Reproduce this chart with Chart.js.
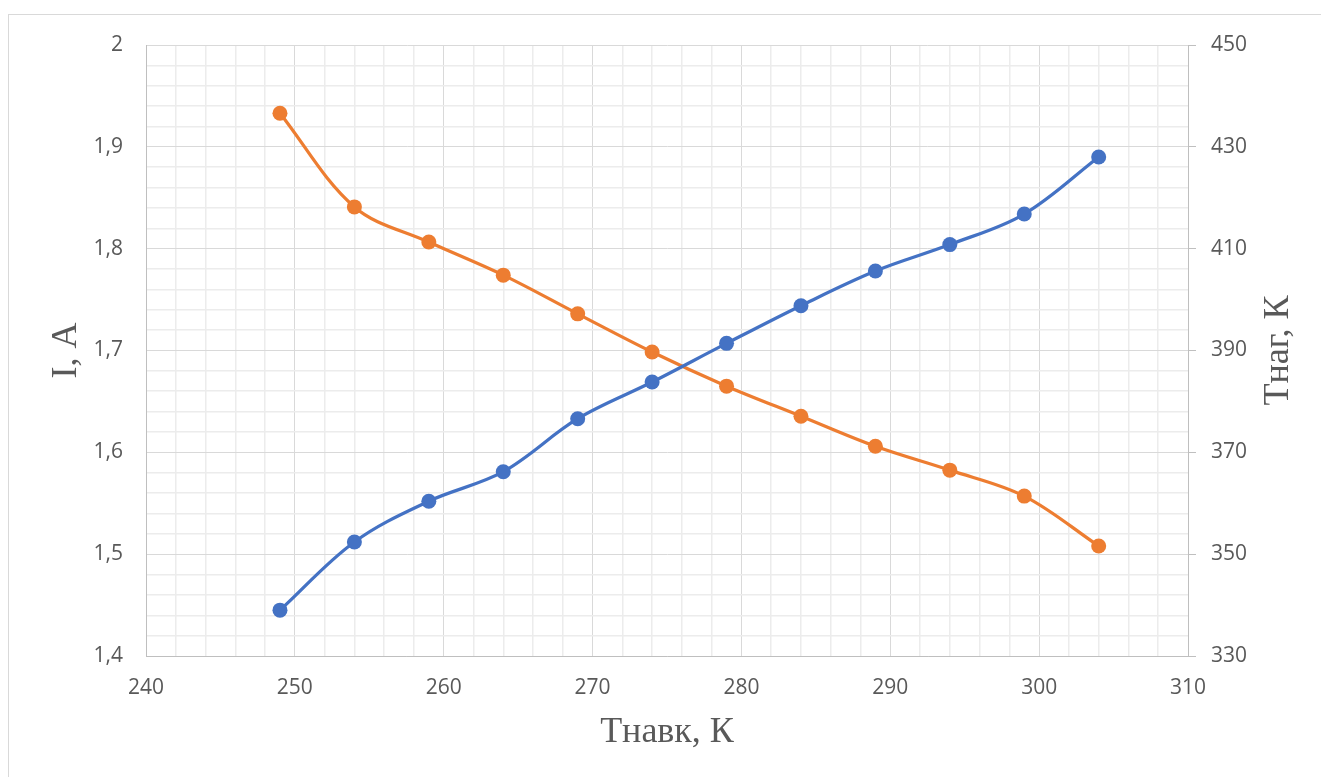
<!DOCTYPE html>
<html>
<head>
<meta charset="utf-8">
<script src="https://cdn.jsdelivr.net/npm/chart.js@4/dist/chart.umd.min.js"></script>
<style>
  html, body { margin: 0; padding: 0; background: #fff; overflow: hidden; }
  #wrap { position: relative; width: 1321px; height: 777px; }
  #frame { position: absolute; left: 8px; top: 14px; width: 1400px; height: 900px; border: 1px solid #d9d9d9; }
  #tChart { position: absolute; left: 0; top: 0; }
</style>
</head>
<body>
<div id="wrap">
  <div id="frame"></div>
  <canvas id="tChart" width="1321" height="777"></canvas>
</div>
<script>
// data
const tAmbient = [249, 254, 259, 264, 269, 274, 279, 284, 289, 294, 299, 304];
const current = [1.445, 1.512, 1.552, 1.581, 1.633, 1.669, 1.707, 1.744, 1.778, 1.804, 1.834, 1.890];
const tHeat = [436.6, 418.2, 411.3, 404.8, 397.2, 389.7, 383.0, 377.1, 371.2, 366.5, 361.4, 351.6];

// axis ticks (minor ones only draw grid lines)
const xTicks = [240, 242, 244, 246, 248, 250, 252, 254, 256, 258, 260, 262, 264, 266, 268, 270,
  272, 274, 276, 278, 280, 282, 284, 286, 288, 290, 292, 294, 296, 298, 300, 302, 304, 306, 308, 310];
const leftTicks = [];
for (let k = 140; k <= 200; k += 2) leftTicks.push(k / 100);
const rightTicks = [330, 350, 370, 390, 410, 430, 450];

const xTitle = "Тнавк, К";
const leftTitle = "I, A";
const rightTitle = "Тнаг, К";

const blue = "#4472c4";
const orange = "#ed7d31";
const txt = "#595959";
const major = "#d9d9d9";
const minor = "#ececec";
const axisLine = "#bfbfbf";

Chart.defaults.font.family = "'Open Sans', sans-serif";
Chart.defaults.font.size = 21;
Chart.defaults.color = txt;

function isMajorX(v){ return v % 10 === 0; }
function isMajorY(v){ return Math.abs(v * 10 - Math.round(v * 10)) < 1e-6; }

const rightTitlePlugin = {
  id: "rightTitle",
  afterDraw(chart){
    const ctx = chart.ctx;
    const s = chart.scales.y1;
    ctx.save();
    ctx.translate(s.right - 42, (chart.chartArea.top + chart.chartArea.bottom) / 2);
    ctx.rotate(-Math.PI / 2);
    ctx.font = "36px 'Liberation Serif'";
    ctx.fillStyle = txt;
    ctx.textAlign = "center";
    ctx.textBaseline = "middle";
    ctx.fillText(rightTitle, 0, 0);
    ctx.restore();
  }
};

new Chart("tChart", {
  type: "line",
  data: {
    datasets: [{
      data: tAmbient.map((x, i) => ({x: x, y: current[i]})),
      yAxisID: "y",
      borderColor: blue,
      backgroundColor: blue,
      borderWidth: 3.25,
      pointRadius: 7.5,
      pointBorderWidth: 0,
      tension: 0.35
    }, {
      data: tAmbient.map((x, i) => ({x: x, y: tHeat[i]})),
      yAxisID: "y1",
      borderColor: orange,
      backgroundColor: orange,
      borderWidth: 3.25,
      pointRadius: 7.5,
      pointBorderWidth: 0,
      tension: 0.35
    }]
  },
  options: {
    responsive: false,
    animation: false,
    layout: { padding: { top: 45, left: 0, right: 0, bottom: 0 } },
    plugins: { legend: { display: false }, tooltip: { enabled: false } },
    scales: {
      x: {
        type: "linear",
        min: 240, max: 310,
        afterBuildTicks: s => { s.ticks = xTicks.map(v => ({value: v})); },
        afterFit: s => { s.height = 121; },
        ticks: {
          autoSkip: false, maxRotation: 0, padding: 19,
          callback: v => isMajorX(v) ? String(v) : ""
        },
        grid: {
          drawTicks: false,
          lineWidth: c => isMajorX(c.tick.value) ? 1 : 1.5,
          color: c => isMajorX(c.tick.value) ? major : minor
        },
        border: { color: axisLine },
        title: {
          display: true, text: xTitle, color: txt,
          font: { family: "'Liberation Serif', serif", size: 36 },
          padding: { top: 0, bottom: 23 }
        }
      },
      y: {
        position: "left",
        min: 1.4, max: 2,
        afterBuildTicks: s => { s.ticks = leftTicks.map(v => ({value: v})); },
        afterFit: s => { s.width = 146; },
        ticks: {
          autoSkip: false, padding: 23,
          callback: v => isMajorY(v) ? String(Math.round(v * 10) / 10).replace(".", ",") : ""
        },
        grid: {
          drawTicks: false,
          lineWidth: c => isMajorY(c.tick.value) ? 1 : 1.5,
          color: c => isMajorY(c.tick.value) ? major : minor
        },
        border: { color: axisLine },
        title: {
          display: true, text: leftTitle, color: txt,
          font: { family: "'Liberation Serif', serif", size: 36 },
          padding: { top: 45, bottom: 0 }
        }
      },
      y1: {
        position: "right",
        min: 330, max: 450,
        afterBuildTicks: s => { s.ticks = rightTicks.map(v => ({value: v})); },
        afterFit: s => { s.width = 133; },
        ticks: { autoSkip: false, padding: 15 },
        grid: {
          drawOnChartArea: false,
          drawTicks: true, tickLength: 8,
          color: axisLine, tickColor: axisLine
        },
        border: { color: axisLine }
      }
    }
  },
  plugins: [rightTitlePlugin]
});
</script>
</body>
</html>
